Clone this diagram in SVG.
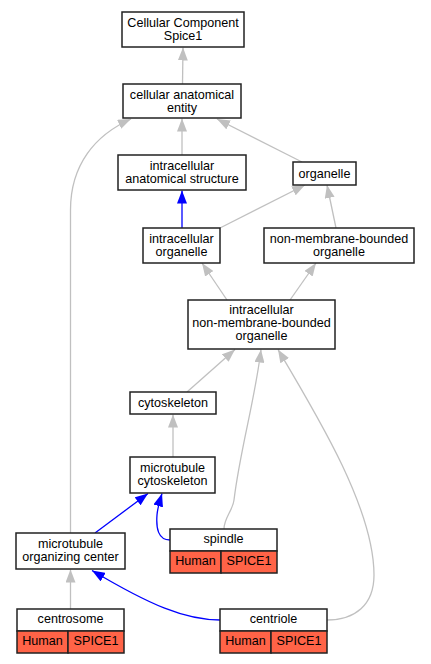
<svg xmlns="http://www.w3.org/2000/svg" width="431" height="664" viewBox="0 0 431 664">
<style>
.n{fill:#fff;stroke:#222;stroke-width:1.5}
.r{fill:#ff6347;stroke:#222;stroke-width:1.5}
text{font-family:"Liberation Sans",Arial,sans-serif;font-size:12.6px;text-anchor:middle;fill:#000}
.g{fill:none;stroke:#c0c0c0;stroke-width:1.3}
.b{fill:none;stroke:#0000ff;stroke-width:1.3}
.g{marker-end:url(#ag)}
.b{marker-end:url(#ab)}
</style>
<defs>
<marker id="ag" viewBox="0 0 13 10" refX="13" refY="5" markerWidth="13" markerHeight="10" markerUnits="userSpaceOnUse" orient="auto"><path d="M0,0 L13,5 L0,10 z" fill="#c0c0c0"/></marker>
<marker id="ab" viewBox="0 0 13 10" refX="13" refY="5" markerWidth="13" markerHeight="10" markerUnits="userSpaceOnUse" orient="auto"><path d="M0,0 L13,5 L0,10 z" fill="#0000ff"/></marker>
</defs>
<rect width="431" height="664" fill="#fff"/>
<g id="edges">
<path class="g" d="M182.5,84 L183,47.5"/>
<path class="g" d="M182,155 L182,118.5"/>
<path class="g" d="M302,162 L217,119"/>
<path class="b" d="M182,228 L182,190.5"/>
<path class="g" d="M220,228 L305,185"/>
<path class="g" d="M336,228 L327,185"/>
<path class="g" d="M227,300 L202,263"/>
<path class="g" d="M290,300 L316,263"/>
<path class="g" d="M187,392 L235,349.5"/>
<path class="g" d="M173,457 L173,414.5"/>
<path class="b" d="M95,533 L148,493.5"/>
<path class="b" d="M170,540 C158,540 156,528 157,515 C158,505 160,500 162,493.5"/>
<path class="g" d="M224,529 C224,518 233,510 234,500 C240,450 255,400 261,349.5"/>
<path class="g" d="M327,620 C355,620 374,605 374,575 C374,510 320,420 278,349.5"/>
<path class="g" d="M70.5,533 L70.5,210 C70.5,165 95,135 131,119"/>
<path class="g" d="M70.5,609 L70.5,569.5"/>
<path class="b" d="M220,620 C185,620 150,605 92,570.5"/>
</g>
<g id="n1"><rect class="n" x="122" y="12" width="122" height="35"/><text x="183" y="26.5">Cellular Component</text><text x="183" y="39.5">Spice1</text></g>
<g id="n2"><rect class="n" x="123" y="84" width="118" height="34"/><text x="182" y="98.5">cellular anatomical</text><text x="182" y="111.5">entity</text></g>
<g id="n3"><rect class="n" x="118" y="155" width="128" height="35"/><text x="182" y="169.5">intracellular</text><text x="182" y="182.5">anatomical structure</text></g>
<g id="n4"><rect class="n" x="293" y="162" width="63" height="23"/><text x="324.5" y="177.5">organelle</text></g>
<g id="n5"><rect class="n" x="143" y="228" width="77" height="35"/><text x="181.5" y="242.5">intracellular</text><text x="181.5" y="255.5">organelle</text></g>
<g id="n6"><rect class="n" x="264" y="228" width="150" height="35"/><text x="339" y="242.5">non-membrane-bounded</text><text x="339" y="255.5">organelle</text></g>
<g id="n7"><rect class="n" x="188" y="300" width="147" height="49"/><text x="261.5" y="314">intracellular</text><text x="261.5" y="327">non-membrane-bounded</text><text x="261.5" y="340">organelle</text></g>
<g id="n8"><rect class="n" x="130" y="392" width="86" height="22"/><text x="173" y="407">cytoskeleton</text></g>
<g id="n9"><rect class="n" x="130" y="457" width="85" height="36"/><text x="172.5" y="472">microtubule</text><text x="172.5" y="485">cytoskeleton</text></g>
<g id="n10"><rect class="n" x="16" y="533" width="109" height="36"/><text x="70.5" y="548">microtubule</text><text x="70.5" y="561">organizing center</text></g>
<g id="n11"><rect class="n" x="170" y="529" width="107" height="22"/><rect class="r" x="170" y="551" width="51" height="22"/><rect class="r" x="221" y="551" width="56" height="22"/><text x="223.5" y="543">spindle</text><text x="195.5" y="565">Human</text><text x="249" y="565">SPICE1</text></g>
<g id="n12"><rect class="n" x="17" y="609" width="107" height="22"/><rect class="r" x="17" y="631" width="51" height="22"/><rect class="r" x="68" y="631" width="56" height="22"/><text x="70.5" y="623">centrosome</text><text x="42.5" y="645">Human</text><text x="96" y="645">SPICE1</text></g>
<g id="n13"><rect class="n" x="220" y="609" width="107" height="22"/><rect class="r" x="220" y="631" width="51" height="22"/><rect class="r" x="271" y="631" width="56" height="22"/><text x="273.5" y="623">centriole</text><text x="245.5" y="645">Human</text><text x="299" y="645">SPICE1</text></g>
</svg>
